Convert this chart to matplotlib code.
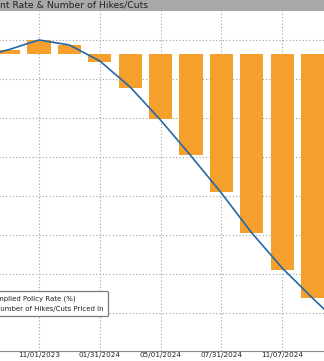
import numpy as np
import matplotlib.pyplot as plt
from matplotlib.patches import Rectangle, Patch
from matplotlib.lines import Line2D

# FOMC meeting dates and market pricing
meetings = ["07/26/2023", "09/20/2023", "11/01/2023", "12/13/2023", "01/31/2024",
            "03/20/2024", "05/01/2024", "06/12/2024", "07/31/2024", "09/18/2024",
            "11/07/2024", "12/18/2024", "01/29/2025"]
implied_rate = [5.312, 5.352, 5.402, 5.376, 5.294, 5.160, 4.990, 4.806,
                4.615, 4.410, 4.230, 4.075, 3.926]
hikes_cuts = [-0.07, 0.09, 0.29, 0.18, -0.16, -0.70, -1.34, -2.08,
              -2.84, -3.68, -4.44, -5.02, -5.62]
current_rate = 5.33
tick_meetings = ["11/01/2023", "01/31/2024", "05/01/2024", "07/31/2024", "11/07/2024"]

x = np.arange(len(meetings))

fig = plt.figure(figsize=(3.24, 3.61), dpi=100)
W, H = 324, 361

# plot area runs past the left/right edges of the figure
ax = fig.add_axes([-60 / W, (H - 350.7) / H, 420 / W, 340.7 / H])
ax.set_xlim(-1.257, 12.559)
ax.set_ylim(3.805, 5.556)

ax.set_axisbelow(True)
ax.set_yticks(np.arange(4.0, 5.41, 0.2))
ax.set_yticklabels([])
ax.tick_params(axis="y", length=0)
ax.grid(True, color="#a0a0a0", linestyle=(0, (1, 2)), linewidth=0.8)

orange = "#f5a02c"
blue = "#2368a6"
ax.bar(x, np.array(hikes_cuts) * 0.25, bottom=current_rate, width=0.76,
       color=orange, zorder=2)
ax.plot(x, implied_rate, color=blue, linewidth=1.2, zorder=3)

ax.set_xticks([meetings.index(m) for m in tick_meetings])
ax.set_xticklabels(tick_meetings, fontsize=5.2, color="#222222")
ax.tick_params(axis="x", length=0, pad=1.0)

for s in ["top", "left", "right"]:
    ax.spines[s].set_visible(False)
ax.spines["bottom"].set_color("#8a8a8a")
ax.spines["bottom"].set_linewidth(0.8)

# right-hand scale for the number of hikes/cuts
ax2 = ax.twinx()
lo, hi = ax.get_ylim()
ax2.set_ylim((lo - current_rate) / 0.25, (hi - current_rate) / 0.25)
ax2.set_yticks([])
for s in ax2.spines.values():
    s.set_visible(False)

# title band
fig.patches.append(Rectangle((0, 1 - 10.5 / H), 1, 10.5 / H, transform=fig.transFigure,
                             facecolor="#a9a9a9", edgecolor="none", zorder=5))
fig.text(0.0, 1 - 5.3 / H, "nt Rate & Number of Hikes/Cuts", fontsize=6.7,
         color="#222222", va="center", ha="left", zorder=6)

handles = [Line2D([], [], color=blue, linewidth=1.2),
           Patch(facecolor=orange)]
leg = fig.legend(handles, ["Implied Policy Rate (%)", "Number of Hikes/Cuts Priced In"],
                 loc="lower left", bbox_to_anchor=(-27 / W, (H - 319.5) / H),
                 fontsize=5.0, frameon=True, fancybox=True, edgecolor="#7a7a7a",
                 framealpha=1, handlelength=1.6, handletextpad=0.5,
                 borderpad=0.6, labelspacing=0.55)
leg.get_frame().set_linewidth(0.9)
for t in leg.get_texts():
    t.set_color("#222222")

fig.savefig("out.png", dpi=100)
